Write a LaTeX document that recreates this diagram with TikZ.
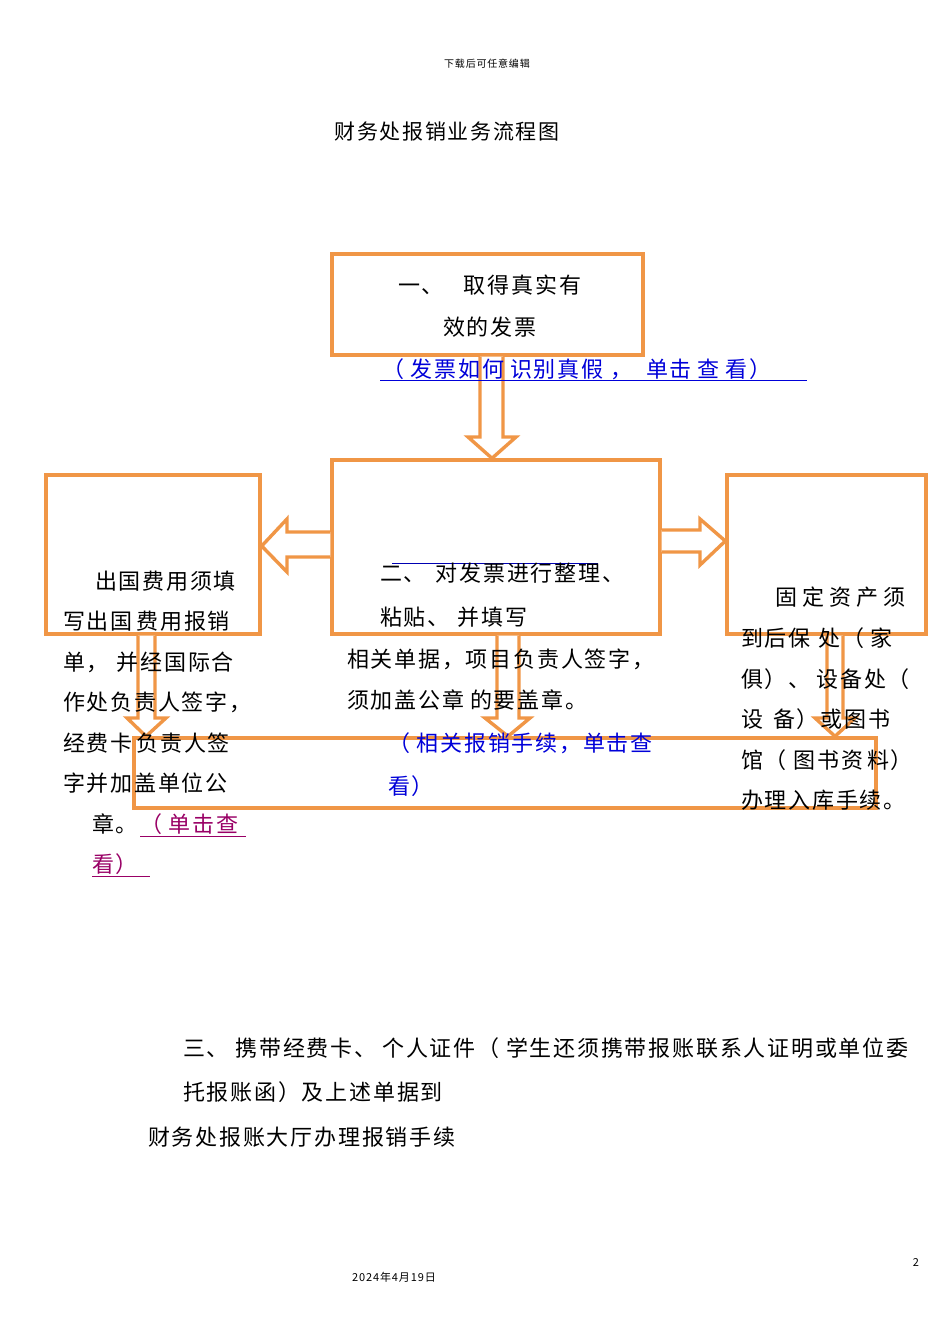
\documentclass[tikz,border=0pt]{standalone}
\usepackage{fontspec}
\setmainfont[LetterSpace=8]{Noto Sans CJK SC}
\definecolor{org}{RGB}{240,150,70}
\begin{document}
\begin{tikzpicture}[x=1pt,y=-1pt,
  box/.style={draw=org,line width=3.4pt},
  barrow/.style={draw=org,line width=3.4pt,fill=white,line join=miter},
  txt/.style={anchor=west,inner sep=0pt,font=\fontsize{22}{22}\selectfont},
  lnk/.style={txt,text=blue!85!black},
  plk/.style={txt,text=violet!80!red}]
\useasboundingbox[fill=white] (0,0) rectangle (950,1344);
\node[inner sep=0pt,font=\fontsize{10}{10}\selectfont] (hdr) at (487,64) {下载后可任意编辑};
\node[inner sep=0pt,font=\fontsize{21}{21}\selectfont] (title) at (447,132) {财务处报销业务流程图};
% boxes
\node[box,minimum width=311pt,minimum height=101pt,inner sep=0pt] (b1) at (487.5,304.5) {};
\node[box,minimum width=328pt,minimum height=174pt,inner sep=0pt] (b2) at (496,547) {};
\node[box,minimum width=214pt,minimum height=159pt,inner sep=0pt] (bl) at (153,554.5) {};
\node[box,minimum width=199pt,minimum height=159pt,inner sep=0pt] (br) at (826.5,554.5) {};
\node[box,minimum width=742pt,minimum height=70pt,inner sep=0pt] (bb) at (505,773) {};
% block arrows
\draw[barrow] (b1.south -| 480,0) -- (480,437) -- (468,437) -- (b2.north -| 492,0) -- (516,437) -- (503,437) -- (b1.south -| 503,0);
\draw[barrow] (b2.west |- 0,532) -- (287,532) -- (287,519) -- (bl.east |- 0,546) -- (287,572) -- (287,557) -- (b2.west |- 0,557);
\draw[barrow] (b2.east |- 0,530) -- (700,530) -- (700,519) -- (br.west |- 0,541) -- (700,565) -- (700,552) -- (b2.east |- 0,552);
\draw[barrow] (bl.south -| 138,0) -- (138,718) -- (127,718) -- (bb.north -| 146,0) -- (166,718) -- (155,718) -- (bl.south -| 155,0);
\draw[barrow] (b2.south -| 497,0) -- (497,718) -- (485,718) -- (bb.north -| 508,0) -- (530,718) -- (519,718) -- (b2.south -| 519,0);
\draw[barrow] (br.south -| 827,0) -- (827,718) -- (815,718) -- (bb.north -| 835,0) -- (855,718) -- (843,718) -- (br.south -| 843,0);
% box1 texts
\node[txt] (t11) at (398,285) {一、\hspace{20pt}取得真实有};
\node[txt] (t12) at (443,327) {效的发票};
\node[lnk] (l1) at (382,369) {（ 发票如何\hspace{6pt}识别真假 ，\hspace{14pt}单击\hspace{6pt}查\hspace{6pt}看）};
\draw[blue!85!black,line width=0.8pt] (380,380) -- (807,380);
% box2 texts
\draw[blue!70!black,line width=0.8pt] (392,563) -- (598,563);
\node[txt] (t21) at (380,573) {二、\hspace{10pt}对发票进行整理、};
\node[txt] (t22) at (380,617) {粘贴、\hspace{8pt}并填写};
\node[txt] (t23) at (347,659) {相关单据，项目负责人签字，};
\node[txt] (t24) at (347,700) {须加盖公章\hspace{6pt}的要盖章。};
\node[lnk] (l2) at (388,743) {（ 相关报销手续，单击查};
\node[lnk] (l3) at (388,786) {看）};
% left texts
\node[txt] (tl1) at (95,581) {出国费用须填};
\node[txt] (tl2) at (63,621) {写出国\hspace{4pt}费用报销};
\node[txt] (tl3) at (63,662) {单，\hspace{8pt}并经国际合};
\node[txt] (tl4) at (63,702) {作处负责人签字，};
\node[txt] (tl5) at (63,743) {经费卡\hspace{4pt}负责人签};
\node[txt] (tl6) at (63,783) {字并加盖单位公};
\node[txt] (tl7) at (92,824) {章。};
\node[plk] (l4) at (140,824) {（ 单击查};
\draw[violet!80!red,line width=0.8pt] (140,836) -- (246,836);
\node[plk] (l5) at (92,864) {看）};
\draw[violet!80!red,line width=0.8pt] (92,876) -- (150,876);
% right texts
\node[txt] (tr1) at (775,597) {固\hspace{5pt}定\hspace{5pt}资\hspace{5pt}产\hspace{5pt}须};
\node[txt] (tr2) at (741,638) {到后保\hspace{8pt}处（\hspace{6pt}家};
\node[txt] (tr3) at (741,679) {俱）、\hspace{6pt}设备处（};
\node[txt] (tr4) at (741,719) {设\hspace{10pt}备）或图书};
\node[txt] (tr5) at (741,760) {馆（ 图书资\hspace{4pt}料）};
\node[txt] (tr6) at (741,800) {办理入库手续。};
% bottom texts
\node[txt] (s1) at (183,1048) {三、 携带经费卡、\hspace{6pt}个人证件（ 学生还须携带报账联系人证明或单位委};
\node[txt] (s2) at (183,1092) {托报账函）及上述单据到};
\node[txt] (s3) at (148,1137) {财务处报账大厅办理报销手续};
\node[inner sep=0pt,font=\fontsize{11}{11}\selectfont] (pg) at (916,1262) {2};
\node[inner sep=0pt,font=\fontsize{11}{11}\selectfont] (dt) at (394,1277) {2024年4月19日};
\end{tikzpicture}
\end{document}
